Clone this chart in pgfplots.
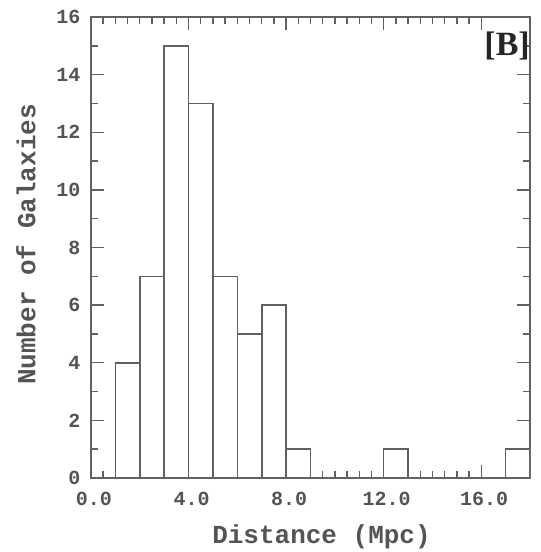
\documentclass[border=0pt]{standalone}
\usepackage{pgfplots}
\pgfplotsset{compat=1.18}
\usepackage{fontspec}
\setmainfont{Liberation Mono}
\newfontfamily\serifb{Liberation Serif}
\definecolor{ln}{gray}{0.38}
\definecolor{tx}{gray}{0.33}
\begin{document}
\begin{tikzpicture}
\begin{axis}[
  scale only axis,
  width=439pt, height=461pt,
  xmin=0, xmax=18, ymin=0, ymax=16,
  axis line style={ln, line width=1.6pt},
  tick style={ln, line width=1.4pt},
  major tick length=13pt, minor tick length=7pt,
  tick align=inside,
  xtick={0,4,8,12,16},
  minor x tick num=7,
  ytick={0,2,...,16},
  minor y tick num=1,
  /pgf/number format/assume math mode=true,
  xticklabel style={/pgf/number format/fixed, /pgf/number format/fixed zerofill, /pgf/number format/precision=1, yshift=-11pt, xshift=3pt},
  yticklabel style={xshift=-7pt},
  ticklabel style={font=\bfseries\fontsize{20}{24}\selectfont, text=tx},
  xlabel={Distance (Mpc)},
  ylabel={Number of Galaxies},
  label style={font=\bfseries\fontsize{26}{30}\selectfont, text=tx},
  xlabel style={yshift=-12pt, xshift=11pt},
  ylabel style={yshift=14pt, xshift=3pt},
  axis background/.style={fill=white},
]
\addplot[ybar interval, draw=ln, fill=white, line width=1.6pt] coordinates {
 (1,4) (2,7) (3,15) (4,13) (5,7) (6,5) (7,6) (8,1) (9,0) (10,0) (11,0) (12,1) (13,0) (14,0) (15,0) (16,0) (17,1) (18,1)
};
\node[anchor=north east, inner sep=0pt, text=black!85, font=\serifb\bfseries\fontsize{34}{36}\selectfont] at (rel axis cs:1,1) [xshift=0pt, yshift=-15pt] {[B]};
\end{axis}
\pgfresetboundingbox
\path (current axis.south west) ++(-91pt,-74pt) rectangle ([shift={(11pt,17pt)}]current axis.north east);
\end{tikzpicture}
\end{document}
